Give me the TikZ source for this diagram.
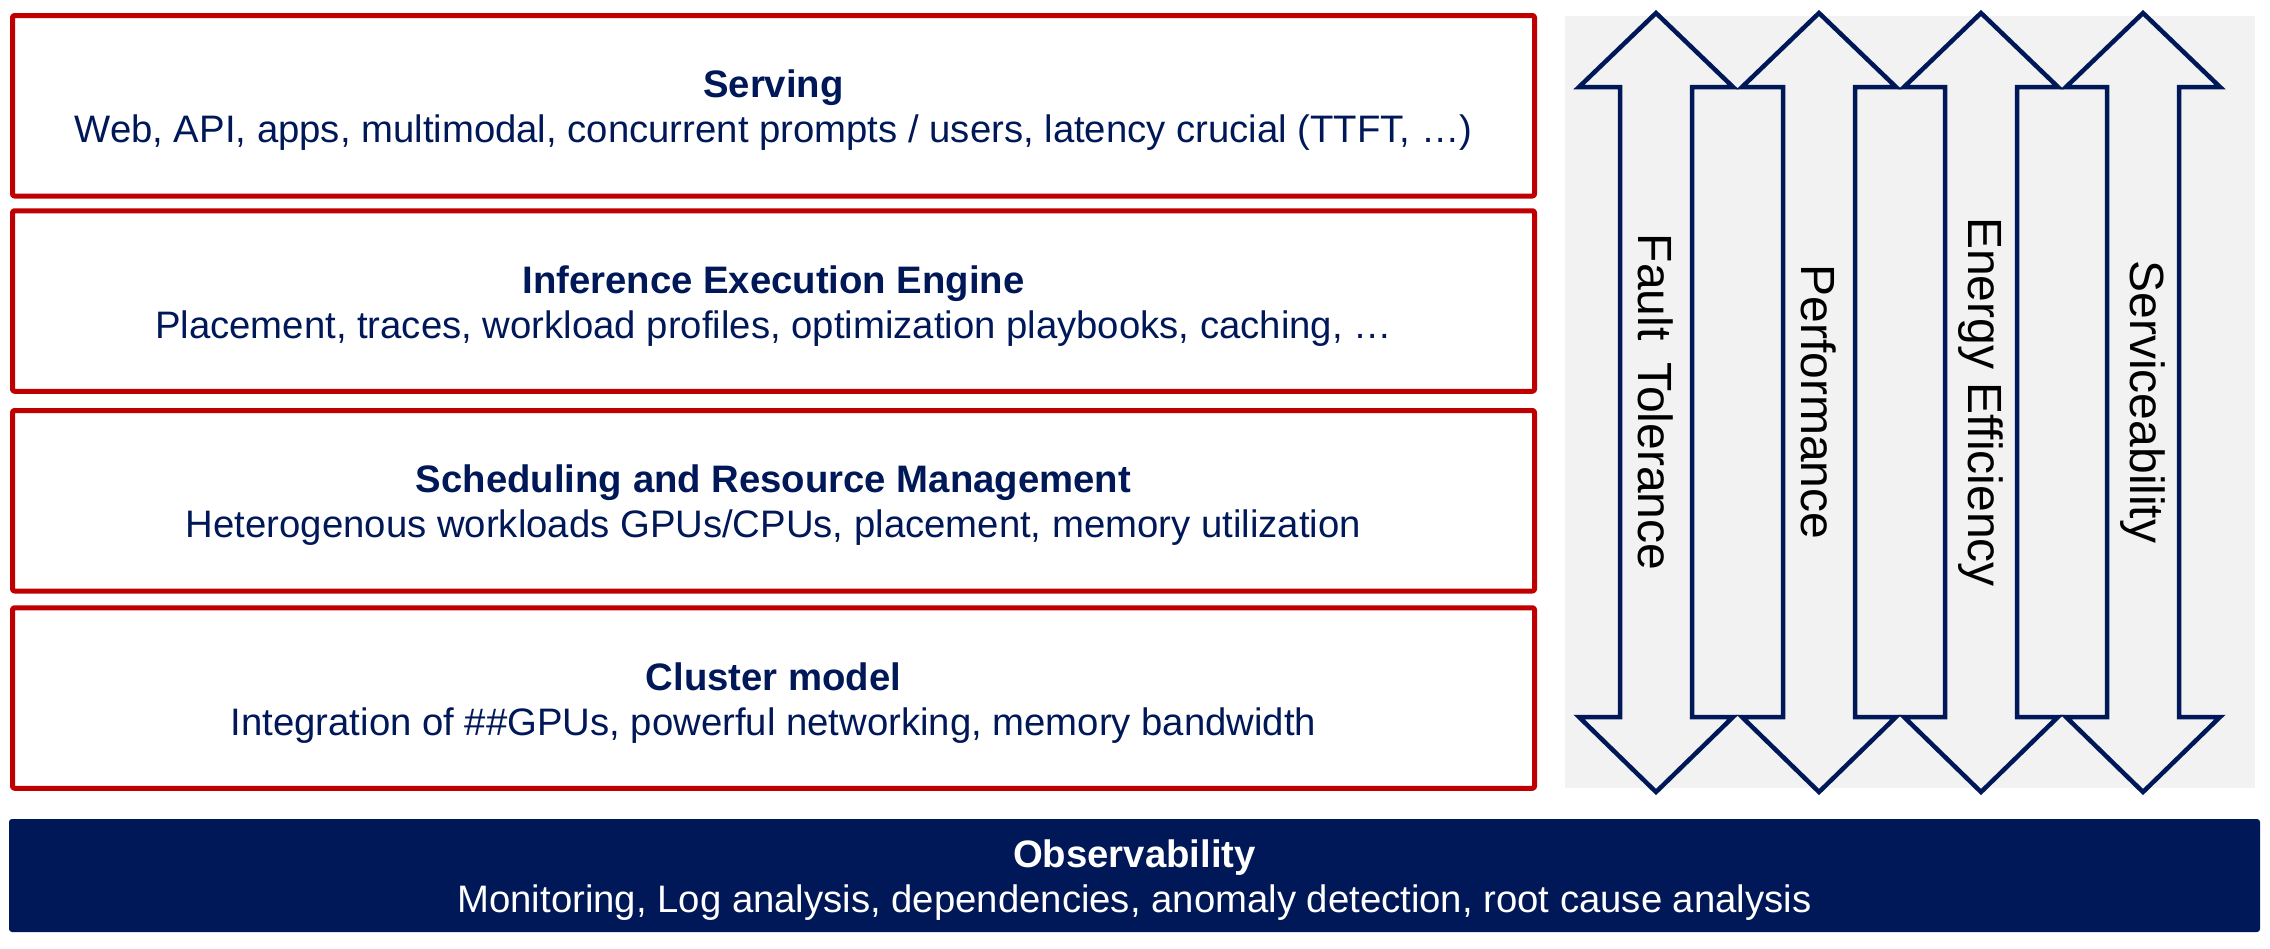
\documentclass[tikz,border=0pt]{standalone}
\usepackage{fontspec}
\setmainfont{Liberation Sans}
\definecolor{navy}{HTML}{001858}
\definecolor{deepred}{HTML}{C00000}
\definecolor{panelgray}{HTML}{F2F2F2}
\newcommand\layerhead[1]{\rule{0pt}{37pt}\textbf{#1}}
\begin{document}
\begin{tikzpicture}[x=1pt,y=-1pt,line join=round,line cap=round]
			\tikzset{layer/.style={draw=deepred,line width=5pt,rounded corners=2pt,minimum width=1522pt,minimum height=180.5pt,inner sep=0pt,align=center,text=navy,font=\fontsize{38.3}{45}\selectfont},
				observe/.style={layer,draw=none,fill=navy,rounded corners=3pt,minimum width=2251pt,minimum height=113pt,text=white},
				pillar/.style={draw=navy,line width=4.5pt,fill=panelgray,line join=miter},
				pillarlabel/.style={rotate=-90,inner sep=0pt,font=\fontsize{48}{48}\selectfont}}
			\useasboundingbox (0,0) rectangle (2270,948);
			% stacked layers
			\node[layer] (serving) at (773.5,105.75) {\layerhead{Serving}\\Web, API, apps, multimodal, concurrent prompts / users, latency crucial (TTFT, …)};
			\node[layer] (engine) at (773.5,301) {\layerhead{Inference Execution Engine}\\Placement, traces, workload profiles, optimization playbooks, caching, …};
			\node[layer] (sched) at (773.5,500.75) {\layerhead{Scheduling and Resource Management}\\Heterogenous workloads GPUs/CPUs, placement, memory utilization};
			\node[layer] (cluster) at (773.5,698) {\layerhead{Cluster model}\\Integration of \#\#GPUs, powerful networking, memory bandwidth};
			\node[observe] (observ) at (1134.5,875.5) {\layerhead{Observability}\\Monitoring, Log analysis, dependencies, anomaly detection, root cause analysis};
			% cross-cutting qualities
			\fill[panelgray] (1565,16) rectangle (2255,788);
			\foreach \cx/\lab [count=\i] in {1656/{Fault\hspace{0.45em}Tolerance},1819/Performance,1981/{Energy Efficiency},2143/Serviceability}{
				\draw[pillar] (\cx,13) -- ++(77,74) -- ++(-41,0) -- (\cx+36,717) -- ++(41,0) -- (\cx,792) -- ++(-77,-75) -- ++(41,0) -- (\cx-36,87) -- ++(-41,0) -- cycle;
				\node[pillarlabel] (quality\i) at (\cx,402) {\lab};
			}
		\end{tikzpicture}
\end{document}
